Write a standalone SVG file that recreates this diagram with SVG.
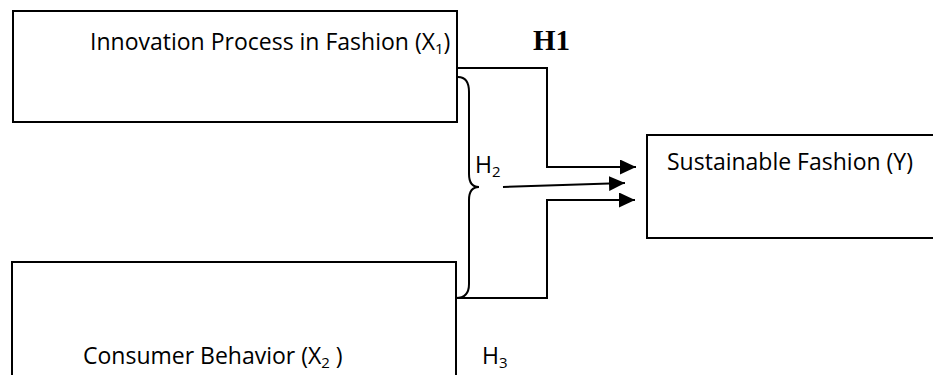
<svg xmlns="http://www.w3.org/2000/svg" width="933" height="375" viewBox="0 0 933 375">
<style>
.box{fill:#fff;stroke:#000;stroke-width:2}
.t{font-family:"Open Sans",sans-serif;font-size:23px;fill:#000}
.s{font-size:15px}
.ln{fill:none;stroke:#000;stroke-width:2}
</style>
<defs>
<marker id="ah" markerWidth="16" markerHeight="15" refX="16" refY="7.5" orient="auto" markerUnits="userSpaceOnUse">
<path d="M0,0 L16,7.5 L0,15 Z" fill="#000"/>
</marker>
</defs>
<rect width="933" height="375" fill="#fff"/>
<g id="x1">
<rect class="box" x="13" y="11" width="444" height="111"/>
<text class="t" x="90" y="50">Innovation Process in Fashion (X<tspan class="s" dy="4">1</tspan><tspan dy="-4">)</tspan></text>
</g>
<g id="x2">
<rect class="box" x="12" y="262" width="444" height="130"/>
<text class="t" x="83" y="364">Consumer Behavior (X<tspan class="s" dy="4">2</tspan><tspan dy="-4"> )</tspan></text>
</g>
<g id="y">
<rect class="box" x="647" y="135" width="300" height="103"/>
<text class="t" x="667" y="170">Sustainable Fashion (Y)</text>
</g>
<g id="connectors">
<path class="ln" d="M457,68 H547 V167 H636" marker-end="url(#ah)"/>
<path class="ln" d="M503,187 L625,183" marker-end="url(#ah)"/>
<path class="ln" d="M457,298 H547 V200 H635" marker-end="url(#ah)"/>
<path class="ln" d="M458,77 Q469,77 469,92 V174 Q469,187 479,187 Q469,187 469,200 V284 Q469,298 456,298"/>
</g>
<g id="labels">
<text x="533" y="50" font-family="Liberation Serif,serif" font-weight="bold" font-size="29">H1</text>
<text class="t" x="475" y="173">H<tspan class="s" dy="4">2</tspan></text>
<text class="t" x="482" y="364">H<tspan class="s" dy="4">3</tspan></text>
</g>
</svg>
